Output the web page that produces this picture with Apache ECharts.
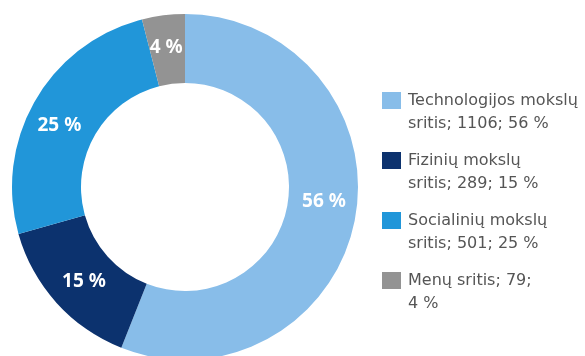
<!DOCTYPE html>
<html>
<head>
<meta charset="utf-8">
<script src="https://cdn.jsdelivr.net/npm/echarts@6/dist/echarts.min.js"></script>
<style>
  html, body { margin: 0; padding: 0; background: #fff; }
  #chart { width: 585px; height: 356px; }
</style>
</head>
<body>
<div id="chart"></div>
<script>
// Study fields and the number in each
const categories = ['Technologijos mokslų sritis', 'Fizinių mokslų sritis', 'Socialinių mokslų sritis', 'Menų sritis'];
const values = [1106, 289, 501, 79];
const colors = ['#88bde9', '#0c326e', '#2196d9', '#939393'];
// how many words of each legend entry go on its first line
const firstLineWords = [2, 2, 2, 3];
// small nudges of the percentage labels inside the ring
const labelOffsets = [[0, -12], [4, 0], [-3, 9], [-1, 1]];

const total = values.reduce((a, b) => a + b, 0);
const pct = v => Math.round(v / total * 100);

const chart = echarts.init(document.getElementById('chart'));
chart.setOption({
  animation: false,
  color: colors,
  legend: {
    orient: 'vertical',
    left: 377,
    top: 61,
    itemWidth: 19,
    itemHeight: 17,
    itemGap: -9,
    icon: 'rect',
    textStyle: {
      fontFamily: 'DejaVu Sans', fontSize: 16, color: '#555', lineHeight: 23,
      padding: [0, 0, 0, 2]
    },
    // a blank first line keeps the swatch level with the entry's first text line
    formatter: name => {
      const i = categories.indexOf(name);
      const words = `${name}; ${values[i]}; ${pct(values[i])} %`.split(' ');
      const n = firstLineWords[i];
      return ' \n' + words.slice(0, n).join(' ') + '\n' + words.slice(n).join(' ');
    }
  },
  series: [{
    type: 'pie',
    center: [185, 187],
    radius: [104, 173],
    startAngle: 90,
    clockwise: true,
    label: {
      position: 'inside',
      color: '#fff',
      fontFamily: 'Noto Sans',
      fontWeight: 'bold',
      fontSize: 19,
      formatter: p => pct(p.value) + ' %'
    },
    labelLine: { show: false },
    data: categories.map((c, i) => ({ name: c, value: values[i], label: { offset: labelOffsets[i] } }))
  }]
});
</script>
</body>
</html>
